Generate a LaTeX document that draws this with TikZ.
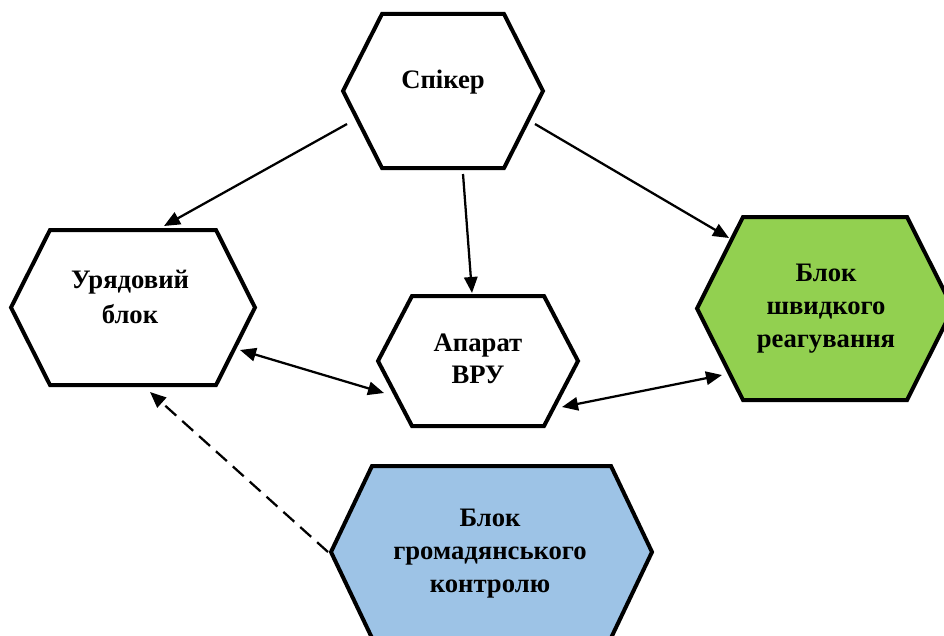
\documentclass[tikz,border=0pt]{standalone}
\usepackage{fontspec}
\setmainfont{Liberation Serif}
\usetikzlibrary{calc,arrows.meta}
\definecolor{hexgreen}{HTML}{92D050}
\definecolor{hexblue}{HTML}{9DC3E6}
\tikzset{
  hexline/.style={line width=3pt, line join=miter, draw=black},
  label/.style={font=\fontsize{20}{25}\selectfont\bfseries, align=center, anchor=base, inner sep=0pt},
  conn/.style={line width=1.7pt, -{Triangle[length=12pt,width=10pt]}},
  biconn/.style={line width=1.7pt, {Triangle[length=12pt,width=10pt]}-{Triangle[length=12pt,width=10pt]}},
  dashconn/.style={line width=1.7pt, dash pattern=on 11pt off 6pt, -{Triangle[length=12pt,width=10pt]}},
}
% \hexshape{name}{hw}{hh}{inset}{fill}
\newcommand\hexshape[5]{%
  \draw[hexline, fill=#5] ($(#1)+(-#2,0)$) -- ($(#1)+(-#2+#4,-#3)$) -- ($(#1)+(#2-#4,-#3)$)
    -- ($(#1)+(#2,0)$) -- ($(#1)+(#2-#4,#3)$) -- ($(#1)+(-#2+#4,#3)$) -- cycle;}
\begin{document}
\begin{tikzpicture}[x=0.75pt, y=-0.75pt]
\useasboundingbox (0,0) rectangle (944,635);
\clip (0,0) rectangle (944,635);
% centres
\coordinate (spk) at (443,91);
\coordinate (gov) at (133,307.5);
\coordinate (apt) at (478,361);
\coordinate (grn) at (825,308.5);
\coordinate (blu) at (491.5,552);
% shapes
\hexshape{spk}{100}{77}{39}{white}
\hexshape{gov}{122}{77.5}{39}{white}
\hexshape{apt}{100}{65}{34}{white}
\hexshape{grn}{128}{91.5}{46}{hexgreen}
\hexshape{blu}{160.5}{86}{41}{hexblue}
% labels (base = baseline of the last line)
\node[label] (spk-t) at (443,88) {Спікер};
\node[label, font=\fontsize{20}{26}\selectfont\bfseries] (gov-t) at (130,323) {Урядовий\\блок};
\node[label, font=\fontsize{20}{23.5}\selectfont\bfseries] (apt-t) at (478,383) {Апарат\\ВРУ};
\node[label, font=\fontsize{20}{24.5}\selectfont\bfseries] (grn-t) at (826,347) {Блок\\швидкого\\реагування};
\node[label, font=\fontsize{20}{24.5}\selectfont\bfseries] (blu-t) at (490,592) {Блок\\громадянського\\контролю};
% connectors
\draw[conn] ($(spk)+(-96,33)$) -- ($(gov)+(31,-81.5)$);
\draw[conn] ($(spk)+(20,83)$) -- ($(apt)+(-6,-68)$);
\draw[conn] ($(spk)+(92,33)$) -- ($(grn)+(-96,-70.5)$);
\draw[biconn] ($(gov)+(107,42.5)$) -- ($(apt)+(-94,32)$);
\draw[biconn] ($(apt)+(84,46)$) -- ($(grn)+(-103,66.5)$);
\draw[dashconn] ($(blu)+(-163.5,0)$) -- ($(gov)+(17,84.5)$);
\end{tikzpicture}
\end{document}
